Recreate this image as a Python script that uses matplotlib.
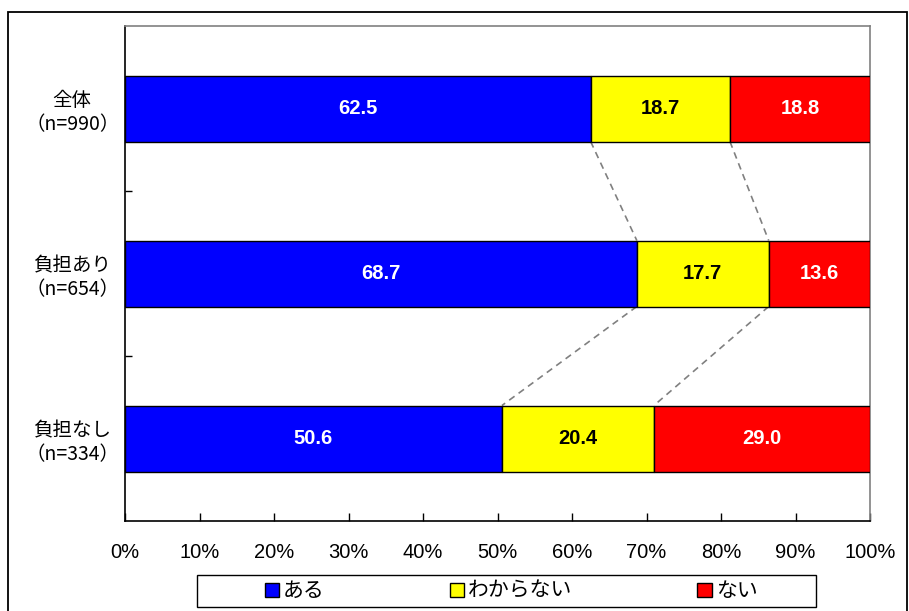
import matplotlib
matplotlib.use("Agg")
import matplotlib.pyplot as plt
from matplotlib.patches import Patch, Rectangle
import numpy as np

JP = ["Noto Sans CJK JP", "DejaVu Sans"]
NUM = ["Liberation Sans Narrow", "Liberation Sans", "DejaVu Sans"]

categories = ["全体\n（n=990）", "負担あり\n（n=654）", "負担なし\n（n=334）"]
series_names = ["ある", "わからない", "ない"]
aru = [62.5, 68.7, 50.6]
wakaranai = [18.7, 17.7, 20.4]
nai = [18.8, 13.6, 29.0]
colors = ["#0000FF", "#FFFF00", "#FF0000"]
text_colors = ["white", "black", "white"]
xticks = [0, 10, 20, 30, 40, 50, 60, 70, 80, 90, 100]

fig = plt.figure(figsize=(9.09, 6.11), dpi=100)
ax = fig.add_axes([125 / 909, 1 - 521 / 611, 745 / 909, 495 / 611])

# 外枠
fig.patches.append(Rectangle((8 / 909, -0.05), 899 / 909, 1 - 12 / 611 + 0.05,
                             transform=fig.transFigure, fill=False,
                             edgecolor="black", linewidth=1.3))

y = np.arange(len(categories))
left = np.zeros(len(categories))
for vals, c, tc, name in zip([aru, wakaranai, nai], colors, text_colors, series_names):
    vals = np.array(vals)
    ax.barh(y, vals, left=left, height=0.4, color=c, edgecolor="black",
            linewidth=1.0, label=name, zorder=3)
    for yi, l, v in zip(y, left, vals):
        ax.text(l + v / 2, yi, f"{v:.1f}", ha="center", va="center",
                color=tc, fontsize=14.5, fontweight="bold", family=NUM, zorder=4)
    left = left + vals

# 区切りの点線
cum = np.cumsum(np.array([aru, wakaranai]), axis=0)
for i in range(len(categories) - 1):
    for k in range(2):
        ax.plot([cum[k, i], cum[k, i + 1]], [i + 0.2, i + 0.8],
                color="#808080", linestyle=(0, (4, 3)), linewidth=1.2, zorder=2)

ax.set_xlim(0, 100)
ax.set_ylim(2.5, -0.5)
ax.set_xticks(xticks)
ax.set_xticklabels([f"{t}%" for t in xticks], family=NUM, fontsize=14.5)
ax.tick_params(axis="x", direction="in", length=6, width=1, pad=16)

ax.set_yticks(y)
ax.set_yticklabels(categories, family=JP, fontsize=14, linespacing=1.2)
ax.set_yticks([0.5, 1.5], minor=True)
ax.tick_params(axis="y", which="major", length=0, pad=38)
ax.tick_params(axis="y", which="minor", direction="in", length=5, width=1)
for lab in ax.get_yticklabels():
    lab.set_ha("center")

for s in ("left", "bottom"):
    ax.spines[s].set_color("black")
    ax.spines[s].set_linewidth(1.2)
for s in ("top", "right"):
    ax.spines[s].set_color("#808080")
    ax.spines[s].set_linewidth(1.2)

# 凡例
fig.patches.append(Rectangle((197 / 909, 1 - 607 / 611), 619 / 909, 32 / 611,
                             transform=fig.transFigure, fill=False,
                             edgecolor="black", linewidth=1.0))
handles = [Patch(facecolor=c, edgecolor="black", linewidth=1.0) for c in colors]
fig.legend(handles, series_names, loc="center", ncol=3,
           bbox_to_anchor=(511 / 909, 1 - 591 / 611), frameon=False,
           prop={"family": JP, "size": 15}, handlelength=0.68, handleheight=0.68,
           handletextpad=0.2, columnspacing=6.0)

fig.savefig("out.png", dpi=100)
